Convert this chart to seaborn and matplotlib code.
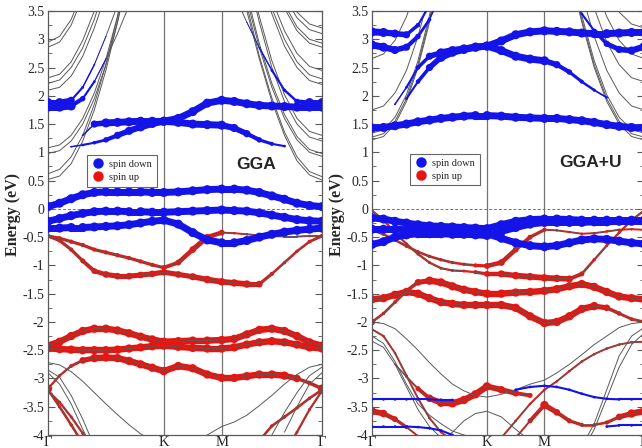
import numpy as np
import pandas as pd
import matplotlib
matplotlib.use("Agg")
import matplotlib.pyplot as plt
from matplotlib.collections import LineCollection
from matplotlib.lines import Line2D
from matplotlib.ticker import MultipleLocator, FuncFormatter
import seaborn as sns

# k-path G -> K -> M -> G (hexagonal zone, |GK| = 1)
K = [0.0, 0.1, 0.2, 0.3, 0.4, 0.5, 0.6, 0.7, 0.8, 0.9, 1.0,
     1.125, 1.25, 1.375, 1.5,
     1.608, 1.717, 1.825, 1.933, 2.042, 2.15, 2.258, 2.366]
K_TICKS = [0.0, 1.0, 1.5, 2.366]
K_LABELS = ["Γ", "K", "M", "Γ"]

# ---------------- GGA ----------------
# spin down (blue) fat bands
gga_dn_a = [0.04, 0.1, 0.18, 0.25, 0.29, 0.3, 0.3, 0.3, 0.3, 0.29, 0.29, 0.3,
            0.32, 0.34, 0.35, 0.35, 0.33, 0.29, 0.23, 0.17, 0.1, 0.06, 0.04]
gga_dn_b = [-0.22, -0.17, -0.12, -0.08, -0.05, -0.04, -0.04, -0.05, -0.05, -0.06, -0.06, -0.05,
            -0.04, -0.03, -0.02, -0.03, -0.04, -0.07, -0.11, -0.15, -0.19, -0.21, -0.22]
gga_dn_c = [-0.34, -0.34, -0.33, -0.33, -0.32, -0.31, -0.3, -0.28, -0.25, -0.22, -0.2, -0.27,
            -0.42, -0.55, -0.6, -0.6, -0.56, -0.5, -0.45, -0.41, -0.38, -0.36, -0.34]
gga_dn_d = [1.8, 1.8, 1.82, 1.95, 2.25, 2.65, 3.1, 3.6]
gga_dn_d_w = [1, 1, 1, 0.6, 0.3, 0.15, 0, 0]
gga_dn_e = [1.88, 1.88, 1.92, 2.15, 2.55, 3.05, 3.6]
gga_dn_e_w = [1, 1, 0.8, 0.3, 0.2, 0.1, 0]
gga_dn_f = [1.3, 1.5, 1.52, 1.53, 1.54, 1.55, 1.55, 1.55, 1.6, 1.72, 1.87, 1.92,
            1.9, 1.86, 1.83, 1.82, 1.81, 1.8, 1.8, 1.8]
gga_dn_f_w = [0.2, 0.8] + [1] * 18
gga_dn_g = [1.1, 1.13, 1.17, 1.22, 1.3, 1.38, 1.45, 1.51, 1.55, 1.53, 1.5, 1.49,
            1.48, 1.43, 1.33, 1.22, 1.15, 1.11]
gga_dn_g_w = [0.2, 0.3, 0.4, 0.6, 0.8, 0.9, 1, 1, 1, 1, 1, 1, 1, 0.9, 0.8, 0.6, 0.45, 0.3]
gga_dn_h = [3.8, 3.3, 2.85, 2.45, 2.1, 1.9, 1.88, 1.88]
gga_dn_h_w = [0, 0.1, 0.2, 0.3, 0.35, 0.6, 1, 1]

# spin up (red) fat bands
gga_up_a = [-0.48, -0.52, -0.58, -0.64, -0.72, -0.77, -0.82, -0.87, -0.93, -0.99, -1.04, -0.95,
            -0.72, -0.5, -0.42, -0.43, -0.45, -0.47, -0.48, -0.49, -0.49, -0.48, -0.48]
gga_up_a_w = [0.5] * 10 + [0.6, 0.7, 0.8, 0.8, 0.7] + [0.3] * 7 + [0.5]
gga_up_b = [-0.48, -0.56, -0.72, -0.92, -1.1, -1.16, -1.19, -1.19, -1.17, -1.15, -1.12, -1.16,
            -1.2, -1.25, -1.29, -1.31, -1.33, -1.33, -1.15, -0.95, -0.75, -0.58, -0.48]
gga_up_b_w = [0.5, 0.5, 0.5, 0.6, 0.7, 0.8, 0.8, 0.8, 0.8, 0.8, 0.8, 0.8,
              0.85, 0.9, 0.9, 0.9, 0.9, 0.8, 0.5, 0.4, 0.4, 0.45, 0.5]
gga_up_c = [-2.42, -2.35, -2.25, -2.16, -2.12, -2.12, -2.15, -2.2, -2.26, -2.31, -2.35, -2.34,
            -2.33, -2.33, -2.32, -2.3, -2.22, -2.14, -2.12, -2.16, -2.25, -2.36, -2.42]
gga_up_d = [-2.47, -2.48, -2.49, -2.5, -2.5, -2.5, -2.49, -2.47, -2.45, -2.43, -2.42, -2.44,
            -2.46, -2.47, -2.47, -2.45, -2.4, -2.36, -2.34, -2.36, -2.4, -2.45, -2.47]
gga_up_e = [-3.18, -2.95, -2.78, -2.68, -2.64, -2.63, -2.64, -2.69, -2.75, -2.81, -2.87, -2.78,
            -2.82, -2.93, -2.99, -2.99, -2.96, -2.93, -2.93, -2.95, -3.0, -3.08, -3.18]
gga_up_e_w = [1, 0.35, 0.45, 0.8] + [1] * 16 + [0.9, 0.55, 1]
gga_up_f = [-3.2, -3.5, -3.82, -4.15]
gga_up_g = [-3.22, -3.42, -3.68, -3.97, -4.25]
gga_up_h = [-4.1, -3.84, -3.68, -3.52, -3.35, -3.2]
gga_up_i = [-4.3, -3.95, -3.55, -3.22]

# plain (gray) bands, starting at the left Gamma
gga_gray_left = [
    [0.52, 0.58, 0.8, 1.2, 1.75, 2.45, 3.3, 4.3],
    [0.62, 0.7, 0.92, 1.3, 1.85, 2.55, 3.4, 4.4],
    [0.98, 1.03, 1.2, 1.5, 1.95, 2.55, 3.3, 4.2],
    [1.08, 1.13, 1.3, 1.6, 2.05, 2.65, 3.4, 4.3],
    [2.1, 2.15, 2.35, 2.7, 3.2, 3.8],
    [2.22, 2.28, 2.5, 2.85, 3.35, 4.0],
    [2.32, 2.38, 2.6, 2.98, 3.5, 4.1],
    [2.86, 2.95, 3.25, 3.75],
    [2.95, 3.05, 3.35, 3.85],
    [-2.72, -2.76, -2.88, -3.05, -3.25, -3.45, -3.64, -3.82, -3.98, -4.1],
    [-2.85, -2.98, -3.3, -3.72, -4.2],
    [-2.9, -3.1, -3.45, -3.9, -4.3],
]
# plain bands ending at the right Gamma
gga_gray_right = [
    [4.4, 3.5, 2.65, 1.9, 1.3, 0.85, 0.6, 0.51],
    [4.5, 3.6, 2.7, 1.96, 1.36, 0.92, 0.66, 0.57],
    [3.7, 2.85, 2.15, 1.6, 1.22, 1.0, 0.93],
    [3.8, 2.92, 2.22, 1.67, 1.28, 1.05, 0.98],
    [4.2, 3.3, 2.5, 1.9, 1.5, 1.27, 1.2],
    [4.3, 3.4, 2.62, 2.02, 1.6, 1.37, 1.3],
    [4.1, 3.45, 2.88, 2.5, 2.27, 2.2],
    [3.55, 3.0, 2.6, 2.37, 2.3],
    [3.7, 3.15, 2.75, 2.52, 2.45],
    [3.55, 3.15, 2.93, 2.86],
    [3.62, 3.22, 3.0, 2.93],
    [3.75, 3.38, 3.17, 3.1],
    [3.85, 3.48, 3.27, 3.2],
    [-4.1, -4.0, -3.85, -3.77, -3.65, -3.48, -3.3, -3.1, -2.93, -2.8, -2.75],
    [-4.0, -3.6, -3.25, -2.95, -2.8],
    [-3.95, -3.5, -3.1, -2.9],
]

# ---------------- GGA+U ----------------
u_dn_a = [1.43, 1.44, 1.47, 1.5, 1.54, 1.57, 1.6, 1.62, 1.64, 1.65, 1.65, 1.64,
          1.62, 1.61, 1.6, 1.6, 1.58, 1.56, 1.53, 1.49, 1.46, 1.44, 1.43]
u_dn_b = [3.13, 3.12, 3.1, 3.08, 3.25, 3.6]
u_dn_b_w = [1, 1, 0.9, 0.8, 0.5, 0.3]
u_dn_c = [2.9, 2.86, 2.81, 2.86, 3.05, 3.35, 3.8]
u_dn_c_w = [1, 1, 0.9, 0.8, 0.6, 0.4, 0.2]
u_dn_d = [1.95, 2.25, 2.5, 2.68, 2.77, 2.82, 2.86, 2.88, 2.97, 3.08, 3.13, 3.15,
          3.14, 3.13, 3.11, 3.1, 3.1, 3.11, 3.12, 3.12]
u_dn_d_w = [0.3, 0.5, 0.8] + [1] * 17
u_dn_e = [1.85, 2.15, 2.5, 2.7, 2.76, 2.8, 2.83, 2.86, 2.88, 2.8, 2.7, 2.65,
          2.62, 2.55, 2.42, 2.25, 2.1, 1.97]
u_dn_e_w = [0.2, 0.3, 0.5, 0.8, 1, 1, 1, 1, 1, 1, 1, 1, 1, 0.8, 0.6, 0.45, 0.35, 0.25]
u_dn_f = [3.8, 3.45, 3.15, 2.92, 2.82, 2.8, 2.87]
u_dn_f_w = [0.1, 0.3, 0.5, 0.7, 0.8, 0.9, 1]
u_dn_g = [-0.16, -0.18, -0.22, -0.25, -0.28, -0.3, -0.31, -0.32, -0.33, -0.34, -0.35, -0.28,
          -0.22, -0.19, -0.18, -0.18, -0.19, -0.2, -0.2, -0.2, -0.2, -0.2, -0.2]
u_dn_h = [-0.36, -0.36, -0.36, -0.37, -0.38, -0.39, -0.4, -0.41, -0.42, -0.43, -0.44, -0.52,
          -0.6, -0.65, -0.67, -0.65, -0.6, -0.55, -0.53, -0.54, -0.57, -0.6, -0.62]
u_dn_i = [-0.63, -0.58, -0.5, -0.46, -0.44, -0.44, -0.44, -0.45, -0.45, -0.46, -0.47, -0.4,
          -0.33, -0.27, -0.24, -0.24, -0.24, -0.24, -0.23, -0.23, -0.22, -0.22, -0.22]
u_dn_j = [-3.37, -3.37, -3.37, -3.37, -3.37, -3.37, -3.38, -3.38]
u_dn_k = [-3.85, -3.85, -3.85, -3.85, -3.86, -3.88, -3.92, -4.0]
u_dn_l = [-3.2, -3.15, -3.13, -3.15, -3.2, -3.27, -3.33, -3.36, -3.37, -3.37, -3.37]
u_dn_m = [-3.85, -3.83, -3.83, -3.83]

u_up_a = [-0.37, -0.45, -0.55, -0.66, -0.76, -0.84, -0.9, -0.95, -0.98, -1.0, -1.01, -0.95,
          -0.72, -0.5, -0.37, -0.38, -0.41, -0.44, -0.43, -0.4, -0.37, -0.36, -0.37]
u_up_a_w = [0.4] * 9 + [0.5, 0.7, 0.8, 0.7, 0.6, 0.5] + [0.3] * 8
u_up_b = [-0.03, -0.2, -0.42, -0.62, -0.8, -0.95, -1.05, -1.09, -1.1, -1.12, -1.15, -1.15,
          -1.18, -1.2, -1.22, -1.23, -1.24, -1.15, -0.9, -0.65, -0.42, -0.2, -0.03]
u_up_b_w = [0.35] * 9 + [0.5, 0.7, 0.85, 0.9, 0.9, 0.9, 0.9, 0.85, 0.6, 0.4, 0.35, 0.35, 0.35, 0.35]
u_up_c = [-2.0, -1.85, -1.65, -1.45, -1.3, -1.27, -1.3, -1.37, -1.43, -1.47, -1.5, -1.5,
          -1.48, -1.47, -1.45, -1.42, -1.37, -1.33, -1.38, -1.47, -1.55, -1.58, -1.6]
u_up_c_w = [0.8, 0.4, 0.45, 0.55, 0.8] + [1] * 18
u_up_d = [-1.6, -1.58, -1.52, -1.47, -1.5, -1.58, -1.65, -1.68, -1.7, -1.7, -1.7, -1.7,
          -1.75, -1.9, -2.02, -2.0, -1.9, -1.77, -1.72, -1.75, -1.85, -1.95, -2.0]
u_up_d_w = [1] * 19 + [0.8, 0.55, 0.45, 0.6]
u_up_e = [-2.75, -2.97, -3.18, -3.35, -3.43, -3.44, -3.38, -3.28, -3.14, -3.2, -3.26, -3.3]
u_up_e_w = [0.2, 0.3, 0.6, 0.9, 1, 1, 1, 1, 1, 0.9, 0.8, 0.6]
u_up_f = [-3.58, -3.62, -3.72, -3.86, -4.02]
u_up_f_w = [1, 0.9, 0.7, 0.5, 0.3]
u_up_g = [-4.05, -3.75, -3.47, -3.6, -3.75, -3.82, -3.82, -3.78, -3.68, -3.62, -3.58]
u_up_g_w = [0.3, 0.6, 1, 0.8, 0.6, 0.5, 0.4, 0.5, 0.8, 1, 1]
u_up_h = [-4.05, -3.75, -3.45, -3.2, -3.05, -2.87, -2.7, -2.57, -2.47, -2.4, -2.36, -2.35]
u_up_i = [-2.13, -2.25, -2.55, -2.95, -3.35, -3.7, -3.95, -4.1]

u_gray_left = [
    [1.22, 1.28, 1.5, 1.9, 2.5, 3.3, 4.2],
    [1.27, 1.33, 1.55, 1.95, 2.55, 3.35, 4.3],
    [1.34, 1.4, 1.62, 2.02, 2.62, 3.42, 4.4],
    [1.75, 1.82, 2.05, 2.45, 3.05, 3.8],
    [2.66, 2.74, 2.98, 3.4, 4.0],
    [-2.25, -2.38, -2.7, -3.1, -3.45, -3.65, -3.8, -3.93, -4.0, -4.05],
    [-2.34, -2.45, -2.75, -3.15, -3.55, -3.85, -4.05],
    [-2.0, -2.03, -2.12, -2.3, -2.5, -2.72, -2.92, -3.1, -3.22, -3.3, -3.33, -3.28,
     -3.2, -3.1, -3.03, -2.9, -2.75, -2.58, -2.4, -2.25, -2.1, -2.03, -2.0],
]
u_gray_right = [
    [4.2, 3.3, 2.5, 1.9, 1.5, 1.28, 1.22],
    [4.3, 3.35, 2.55, 1.95, 1.55, 1.33, 1.27],
    [4.4, 3.42, 2.62, 2.02, 1.62, 1.4, 1.34],
    [3.8, 3.05, 2.45, 2.05, 1.82, 1.75],
    [3.55, 2.95, 2.55, 2.32, 2.25],
    [4.0, 3.4, 2.98, 2.74, 2.66],
    [3.85, 3.48, 3.27, 3.2],
    [-4.2, -3.8, -3.2, -2.6, -2.25, -2.1],
    [-4.3, -3.9, -3.35, -2.8, -2.4, -2.2],
]
u_gray_mid = [-4.1, -3.95, -3.75, -3.62, -3.58, -3.68, -3.9, -4.1]  # dome at K

BLUE = "#1414e8"
RED = "#e8140f"
GRAY = "0.35"


def seg(start, vals):
    if start == "R":
        start = len(K) - len(vals)
    return np.array(K[start:start + len(vals)]), np.array(vals, float)


def gray_lines(ax, lines):
    rows = []
    for i, (start, vals) in enumerate(lines):
        ks, es = seg(start, vals)
        rows += [(i, k, e) for k, e in zip(ks, es)]
    df = pd.DataFrame(rows, columns=["band", "k", "E"])
    sns.lineplot(data=df, x="k", y="E", units="band", estimator=None, sort=False,
                 color=GRAY, lw=0.7, ax=ax, legend=False, zorder=2.5)


def fat(ax, start, vals, w, color):
    ks, es = seg(start, vals)
    w = np.broadcast_to(np.asarray(w, float), ks.shape)
    wmax = 5.0 if color == BLUE else 4.6
    z = 3 if color == BLUE else 2
    pts = np.column_stack([ks, es])
    segs = np.stack([pts[:-1], pts[1:]], axis=1)
    lw = np.minimum(w[:-1], w[1:]) * wmax
    ax.add_collection(LineCollection(segs, linewidths=lw, colors=color,
                                     capstyle="round", zorder=z))
    ax.scatter(ks, es, s=(w * wmax * 1.3) ** 2, color=color, edgecolor="none", zorder=z)


def panel(ax, fats, gray, title, tx, legend_xy, label_x):
    # gray line under every fat band as well
    gray_lines(ax, gray + [(s, v) for s, v, w, c in fats])
    for s, v, w, c in fats:
        fat(ax, s, v, w, c)
    ax.axvline(1.0, color="0.45", lw=0.9, zorder=1)
    ax.axvline(1.5, color="0.45", lw=0.9, zorder=1)
    ax.axhline(0.0, color="0.45", lw=0.7, ls=(0, (3, 2)), zorder=1)
    ax.set_xlim(0, K[-1])
    ax.set_ylim(-4, 3.5)
    ax.set_xticks(K_TICKS)
    ax.set_xticklabels(K_LABELS)
    ax.set_xlabel("")
    ax.yaxis.set_major_locator(MultipleLocator(0.5))
    ax.yaxis.set_minor_locator(MultipleLocator(0.25))
    ax.yaxis.set_major_formatter(FuncFormatter(lambda v, p: f"{v:g}"))
    ax.tick_params(axis="y", which="both", direction="in", right=True, labelsize=10,
                   color="0.35", pad=2.5)
    ax.tick_params(axis="y", which="major", length=5)
    ax.tick_params(axis="y", which="minor", length=3)
    ax.tick_params(axis="x", length=0, labelsize=10.5, pad=1)
    for sp in ax.spines.values():
        sp.set_color("0.35")
        sp.set_linewidth(0.9)
    ax.set_ylabel("Energy (eV)", fontsize=11.5, fontweight="bold")
    ax.yaxis.set_label_coords(label_x, 0.52)
    ax.text(tx[0], tx[1], title, ha="center", va="center", fontsize=12.5,
            fontweight="bold", family="Liberation Sans")
    handles = [Line2D([], [], ls="", marker="o", ms=6.5, color=BLUE, label="spin down"),
               Line2D([], [], ls="", marker="o", ms=6.5, color=RED, label="spin up")]
    leg = ax.legend(handles=handles, loc="upper left", bbox_to_anchor=legend_xy,
                    fontsize=7.5, frameon=True, fancybox=False, edgecolor="0.4",
                    framealpha=1, borderpad=0.45, handletextpad=0.5, labelspacing=0.35,
                    handlelength=1.2, borderaxespad=0)
    leg.get_frame().set_linewidth(0.8)
    leg.set_zorder(5)


sns.set_style("ticks")
plt.rcParams["font.family"] = ["Liberation Serif", "DejaVu Serif"]
plt.rcParams["axes.unicode_minus"] = False

fig = plt.figure(figsize=(6.42, 4.48), dpi=100)
ax1 = fig.add_axes([48 / 642, 13 / 448, 274 / 642, 424 / 448])
ax2 = fig.add_axes([372 / 642, 13 / 448, 272 / 642, 424 / 448])

gga_fats = [
    (0, gga_dn_a, 1, BLUE), (0, gga_dn_b, 1, BLUE), (0, gga_dn_c, 1, BLUE),
    (0, gga_dn_d, gga_dn_d_w, BLUE), (0, gga_dn_e, gga_dn_e_w, BLUE),
    (3, gga_dn_f, gga_dn_f_w, BLUE), (2, gga_dn_g, gga_dn_g_w, BLUE),
    ("R", gga_dn_h, gga_dn_h_w, BLUE),
    (0, gga_up_a, gga_up_a_w, RED), (0, gga_up_b, gga_up_b_w, RED),
    (0, gga_up_c, 1, RED), (0, gga_up_d, 1, RED), (0, gga_up_e, gga_up_e_w, RED),
    (0, gga_up_f, 0.4, RED), (0, gga_up_g, 0.35, RED),
    ("R", gga_up_h, 0.4, RED), ("R", gga_up_i, 0.35, RED),
]
gga_gray = [(0, v) for v in gga_gray_left] + [("R", v) for v in gga_gray_right]
panel(ax1, gga_fats, gga_gray, "GGA", (1.80, 0.78), (0.142, 0.66), -0.1)

u_fats = [
    (0, u_dn_a, 1, BLUE), (0, u_dn_b, u_dn_b_w, BLUE), (0, u_dn_c, u_dn_c_w, BLUE),
    (3, u_dn_d, u_dn_d_w, BLUE), (2, u_dn_e, u_dn_e_w, BLUE), ("R", u_dn_f, u_dn_f_w, BLUE),
    (0, u_dn_g, 1, BLUE), (0, u_dn_h, 1, BLUE), (0, u_dn_i, 1, BLUE),
    (0, u_dn_j, 0.3, BLUE), (0, u_dn_k, 0.3, BLUE), (12, u_dn_l, 0.3, BLUE),
    ("R", u_dn_m, 0.3, BLUE),
    (0, u_up_a, u_up_a_w, RED), (0, u_up_b, u_up_b_w, RED),
    (0, u_up_c, u_up_c_w, RED), (0, u_up_d, u_up_d_w, RED),
    (2, u_up_e, u_up_e_w, RED), (0, u_up_f, u_up_f_w, RED), (12, u_up_g, u_up_g_w, RED),
    (11, u_up_h, 0.3, RED), (0, u_up_i, 0.3, RED),
]
u_gray = [(0, v) for v in u_gray_left] + [("R", v) for v in u_gray_right] + [(6, u_gray_mid)]
panel(ax2, u_fats, u_gray, "GGA+U", (1.90, 0.82), (0.14, 0.663), -0.1)

fig.savefig("out.png", dpi=100)
